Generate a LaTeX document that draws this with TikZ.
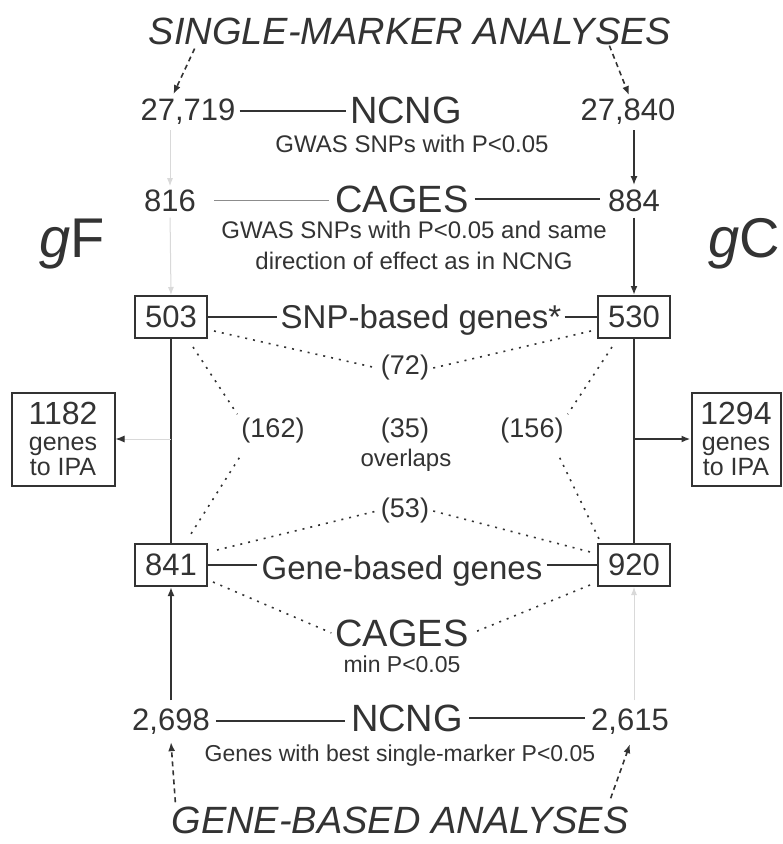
\documentclass[tikz,border=0pt]{standalone}
\usepackage{fontspec}
\setmainfont{Liberation Sans}
\usetikzlibrary{arrows.meta,calc}
\definecolor{ink}{HTML}{333333}
\begin{document}
\begin{tikzpicture}[x=1pt,y=-1pt,
  every node/.style={inner sep=0pt, text=ink},
  num/.style={font=\fontsize{31}{31}\selectfont},
  big/.style={font=\fontsize{38}{38}\selectfont},
  titl/.style={font=\fontsize{38}{38}\selectfont\itshape},
  capt/.style={font=\fontsize{24}{31}\selectfont, align=center},
  smallcap/.style={font=\fontsize{23}{23}\selectfont},
  mid/.style={font=\fontsize{33}{33}\selectfont},
  ov/.style={font=\fontsize{27}{27}\selectfont, inner sep=4pt},
  gbox/.style={draw=ink, line width=2pt, minimum width=72pt, minimum height=42pt, font=\fontsize{31}{31}\selectfont},
  ipa/.style={draw=ink, line width=2pt, align=center, font=\fontsize{25}{25.5}\selectfont, minimum height=93pt},
  conn/.style={draw=ink, line width=1.8pt},
  greyline/.style={draw=black!45, line width=1.6pt},
  faint/.style={draw=black!15, line width=1pt},
  dotl/.style={draw=ink, line width=1.6pt, dash pattern=on 2pt off 6pt},
  dashl/.style={draw=ink, line width=1.6pt, dash pattern=on 5pt off 4pt},
  arr/.style={-{Latex[length=9pt,width=7pt]}},
  farr/.style={-{Latex[length=8pt,width=6pt]}},
  darkarr/.style={-{Latex[length=9pt,width=7pt,color=ink]}}
]
\fill[white] (0,0) rectangle (783,844);
\useasboundingbox (0,0) rectangle (783,844);

% titles
\node[titl, anchor=base] (tsm) at (410,44) {SINGLE-MARKER ANALYSES};
\node[titl, anchor=base] (tgb) at (400,833) {GENE-BASED ANALYSES};

% top row
\node[num, anchor=base] (n27719) at (188,120) {27,719};
\node[big, anchor=base] (ncngT) at (406,123) {NCNG};
\node[num, anchor=base] (n27840) at (628,120) {27,840};
\node[capt, anchor=base] (capT) at (412,152) {GWAS SNPs with P<0.05};

% CAGES row
\node[num, anchor=base] (n816) at (170,211) {816};
\node[big, anchor=base] (cagesT) at (402,212) {CAGES};
\node[num, anchor=base] (n884) at (634,211) {884};
\node[capt, anchor=north] (capC) at (414,221) {GWAS SNPs with P<0.05 and same\\direction of effect as in NCNG};

% gF / gC
\node[font=\fontsize{56}{56}\selectfont, anchor=base] (gF) at (72,257) {\textit{g}F};
\node[font=\fontsize{56}{56}\selectfont, anchor=base] (gC) at (744,257) {\textit{g}C};

% boxes
\node[gbox] (b503) at (171,317) {503};
\node[gbox] (b530) at (634,317) {530};
\node[gbox] (b841) at (171,565) {841};
\node[gbox] (b920) at (634,565) {920};
\node[mid, anchor=base] (snp) at (421,328) {SNP-based genes*};
\node[mid, anchor=base] (gene) at (402,579) {Gene-based genes};

% overlaps
\node[ov] (o72) at (405,368) {(72)};
\node[ov] (o162) at (273,431) {(162)};
\node[ov] (o35) at (405,431) {(35)};
\node[font=\fontsize{24}{24}\selectfont, anchor=base] (ovl) at (406,466) {overlaps};
\node[ov] (o156) at (532,431) {(156)};
\node[ov] (o53) at (405,511) {(53)};

% IPA boxes
\node[ipa, minimum width=103pt] (ipaF) at (63,439) {{\fontsize{32}{32}\selectfont 1182}\\genes\\to IPA};
\node[ipa, minimum width=89pt] (ipaC) at (736,439) {{\fontsize{32}{32}\selectfont 1294}\\genes\\to IPA};

% bottom
\node[big, anchor=base] (cagesB) at (402,646) {CAGES};
\node[smallcap, anchor=base] (capCB) at (402,672) {min P<0.05};
\node[num, anchor=base] (n2698) at (171,730) {2,698};
\node[big, anchor=base] (ncngB) at (407,731) {NCNG};
\node[num, anchor=base] (n2615) at (630,730) {2,615};
\node[smallcap, anchor=base] (capNB) at (400,761) {Genes with best single-marker P<0.05};

% horizontal solid connectors
\draw[conn, shorten <=4pt, shorten >=4pt] (n27719.east) -- (n27719.east -| ncngT.west);
\draw[greyline, shorten <=18pt, shorten >=6pt] (n816.east) -- (n816.east -| cagesT.west);
\draw[conn, shorten <=6pt, shorten >=8pt] (cagesT.east) -- (cagesT.east -| n884.west);
\draw[conn, shorten >=3pt] (b503.east) -- (b503.east -| snp.west);
\draw[conn, shorten <=3pt] (snp.east |- b530.west) -- (b530.west);
\draw[conn, shorten >=4pt] (b841.east) -- (b841.east -| gene.west);
\draw[conn, shorten <=4pt] (gene.east |- b920.west) -- (b920.west);
\draw[conn, shorten <=6pt, shorten >=6pt] (n2698.east) -- (n2698.east -| ncngB.west);
\draw[conn, shorten <=6pt, shorten >=6pt] (ncngB.east) -- (ncngB.east -| n2615.west);

% vertical connectors
\draw[conn] (b503.south) -- (b841.north);
\draw[conn] (b530.south) -- (b920.north);
\draw[conn, arr, shorten <=6pt, shorten >=4pt] (n884.north |- n27840.south) -- (n884.north);
\draw[conn, arr, shorten <=6pt] (n884.south) -- (b530.north);
\draw[faint, farr, shorten <=6pt, shorten >=3pt] (n816.north |- n27719.south) -- (n816.north);
\draw[faint, farr, shorten <=6pt] (n816.south) -- (b503.north);
\draw[conn, arr, shorten <=8pt] (n2698.north) -- (b841.south);
\draw[faint, farr, shorten <=8pt] (b920.south |- n2615.north) -- (b920.south);

% side arrows to IPA
\draw[conn, arr] (b530.south |- ipaC.west) -- (ipaC.west);
\draw[faint, darkarr] (b503.south |- ipaF.east) -- (ipaF.east);

% dashed arrows from titles
\draw[dashl, arr] ($(tsm.south west)+(46,4)$) -- ($(n27719.north west)+(33,-4)$);
\draw[dashl, arr] ($(tsm.south east)+(-62,1)$) -- ($(n27840.north)+(1,-3)$);
\draw[dashl, arr] ($(tgb.north west)+(4,-4)$) -- ($(n2698.south)+(0,8)$);
\draw[dashl, arr] ($(tgb.north east)+(-18,-8)$) -- ($(n2615.south)+(0,10)$);

% dotted overlap lines
\draw[dotl] ($(b503.south east)+(6,-8)$) -- (o72.west);
\draw[dotl] ($(b530.south west)+(-6,-8)$) -- (o72.east);
\draw[dotl] ($(b503.south)+(22,8)$) -- (o162.north west);
\draw[dotl] ($(b530.south)+(-22,8)$) -- (o156.north east);
\draw[dotl] ($(o162.south west)+(2,10)$) -- ($(b841.north)+(18,-6)$);
\draw[dotl] ($(o156.south east)+(-8,10)$) -- ($(b920.north west)+(2,-4)$);
\draw[dotl] ($(b841.north east)+(9,7)$) -- (o53.west);
\draw[dotl] (o53.east) -- ($(b920.north west)+(-3,10)$);
\draw[dotl] ($(b841.south east)+(5,-5)$) -- ($(cagesB.west)+(-4,0)$);
\draw[dotl] ($(b920.south west)+(-7,-2)$) -- ($(cagesB.east)+(4,0)$);
\end{tikzpicture}
\end{document}
